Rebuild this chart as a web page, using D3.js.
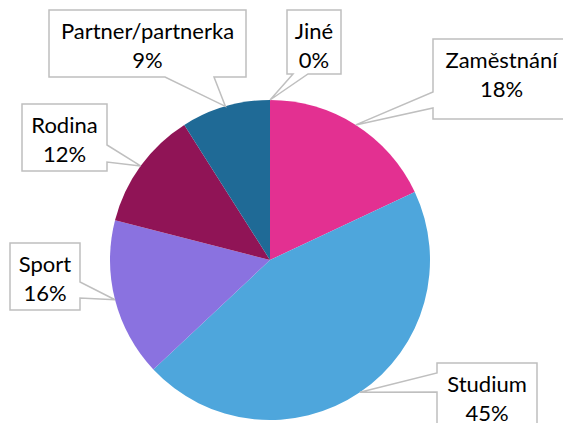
<!DOCTYPE html>
<meta charset='utf-8'>
<style>
body {
    margin: 0;
    background: #fff;
}

svg {
    display: block;
    overflow: hidden;
}

.callout {
    fill: #fff;
    stroke: #bfbfbf;
    stroke-width: 1.5px;
}

.callout-text {
    font-family: Lato, 'Open Sans', sans-serif;
    font-size: 22px;
    fill: #000;
    text-anchor: middle;
}
</style>

<body>
    <div class='chart'></div>
    <script src='https://d3js.org/d3.v7.min.js'></script>
    <script>
    var categories = ['Zaměstnání', 'Studium', 'Sport', 'Rodina', 'Partner/partnerka', 'Jiné'];
    var shares = [18, 45, 16, 12, 9, 0];
    var sliceColors = ['#e33091', '#4ea6dc', '#8a72e0', '#901456', '#1f6a96', '#7f7f7f'];

    // callout boxes, placed by hand like the original (tail base is on the given side)
    var boxes = [
        { x: 433, y: 39, w: 137, h: 80, side: 'left', base: [92, 108] },
        { x: 437, y: 363, w: 100, h: 80, side: 'left', base: [373, 392] },
        { x: 10, y: 243, w: 70, h: 67, side: 'right', base: [282, 298] },
        { x: 22, y: 104, w: 85, h: 67, side: 'right', base: [145, 162] },
        { x: 49, y: 10, w: 197, h: 67, side: 'bottom', base: [165, 214] },
        { x: 287, y: 10, w: 54, h: 64, side: 'bottom', base: [293, 308] }
    ];

    var width = 563,
        height = 423,
        cx = 270,
        cy = 260,
        radius = 160;

    var svg = d3.select('.chart').append('svg')
        .attr('width', width)
        .attr('height', height);

    var total = d3.sum(shares);

    var pie = d3.pie()
        .sort(null)
        .value(function(d) { return d; });

    var arcs = pie(shares);

    var arc = d3.arc()
        .innerRadius(0)
        .outerRadius(radius);

    var edge = d3.arc()
        .innerRadius(radius)
        .outerRadius(radius);

    var g = svg.append('g')
        .attr('transform', 'translate(' + cx + ',' + cy + ')');

    g.selectAll('.slice')
        .data(arcs)
        .enter().append('path')
        .attr('class', 'slice')
        .attr('d', arc)
        .style('fill', function(d, i) { return sliceColors[i]; });

    function calloutPath(b, tip) {
        var x0 = b.x, y0 = b.y, x1 = b.x + b.w, y1 = b.y + b.h;
        var pts = [[x0, y0], [x1, y0]];
        if (b.side === 'right') pts.push([x1, b.base[0]], tip, [x1, b.base[1]]);
        pts.push([x1, y1]);
        if (b.side === 'bottom') pts.push([b.base[1], y1], tip, [b.base[0], y1]);
        pts.push([x0, y1]);
        if (b.side === 'left') pts.push([x0, b.base[1]], tip, [x0, b.base[0]]);
        return 'M' + pts.map(function(p) { return p.join(','); }).join('L') + 'Z';
    }

    var labels = svg.selectAll('.label')
        .data(arcs)
        .enter().append('g')
        .attr('class', 'label');

    labels.append('path')
        .attr('class', 'callout')
        .attr('d', function(d, i) {
            var c = edge.centroid(d);
            return calloutPath(boxes[i], [cx + c[0], cy + c[1]]);
        });

    labels.append('text')
        .attr('class', 'callout-text')
        .attr('x', function(d, i) { return boxes[i].x + boxes[i].w / 2; })
        .attr('y', function(d, i) { return boxes[i].y + 28.5; })
        .text(function(d, i) { return categories[i]; });

    labels.append('text')
        .attr('class', 'callout-text')
        .attr('x', function(d, i) { return boxes[i].x + boxes[i].w / 2; })
        .attr('y', function(d, i) { return boxes[i].y + 57.5; })
        .text(function(d) { return Math.round(d.value / total * 100) + '%'; });
    </script>
</body>
